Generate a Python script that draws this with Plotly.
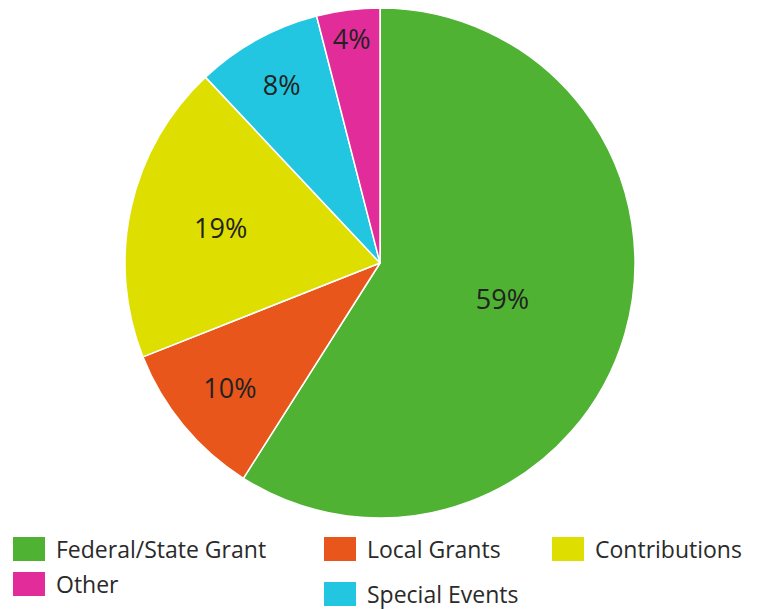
import plotly.graph_objects as go

labels = ["Federal/State Grant", "Local Grants", "Contributions", "Special Events", "Other"]
values = [59, 10, 19, 8, 4]
colors = ["#4fb233", "#e8561c", "#dede00", "#22c6e0", "#e22c9a"]

# legend layout (manual, to match the reference arrangement)
legend_order = ["Federal/State Grant", "Local Grants", "Contributions", "Other", "Special Events"]
legend_pos = {
    "Federal/State Grant": (13, 537),
    "Local Grants": (324, 537),
    "Contributions": (552, 537),
    "Other": (13, 572),
    "Special Events": (324, 582),
}

OFF = 8  # page body margin
W, H = 768 - OFF, 609 - OFF
cx, cy, r = 380 - OFF, 255, 255

fig = go.Figure(go.Pie(
    labels=labels, values=values, sort=False, direction="clockwise", rotation=0,
    marker=dict(colors=colors, line=dict(color="white", width=1.5)),
    texttemplate="%{percent:.0%}", textposition="inside",
    insidetextorientation="horizontal",
    insidetextfont=dict(family="Open Sans", size=27, color="#222222"),
    domain=dict(x=[(cx - r) / W, (cx + r) / W], y=[max(0, (H - cy - r) / H), min(1, (H - cy + r) / H)]),
    showlegend=False, hoverinfo="label+percent",
))

shapes = []
annotations = []
for name in legend_order:
    i = labels.index(name)
    x0, y0 = legend_pos[name]
    x0 -= OFF
    y0 -= OFF
    shapes.append(dict(type="rect", xref="paper", yref="paper",
                       x0=x0 / W, x1=(x0 + 32) / W, y0=1 - (y0 + 24) / H, y1=1 - y0 / H,
                       fillcolor=colors[i], line=dict(width=0)))
    annotations.append(dict(text=name, xref="paper", yref="paper",
                            x=(x0 + 41) / W, y=1 - (y0 + 12) / H, xanchor="left", yanchor="middle",
                            showarrow=False, font=dict(family="Open Sans", size=23, color="#2a2a2a")))

fig.update_layout(width=W, height=H, margin=dict(l=0, r=0, t=0, b=0),
                  paper_bgcolor="white", plot_bgcolor="white",
                  shapes=shapes, annotations=annotations)
fig.write_html("out.html")
